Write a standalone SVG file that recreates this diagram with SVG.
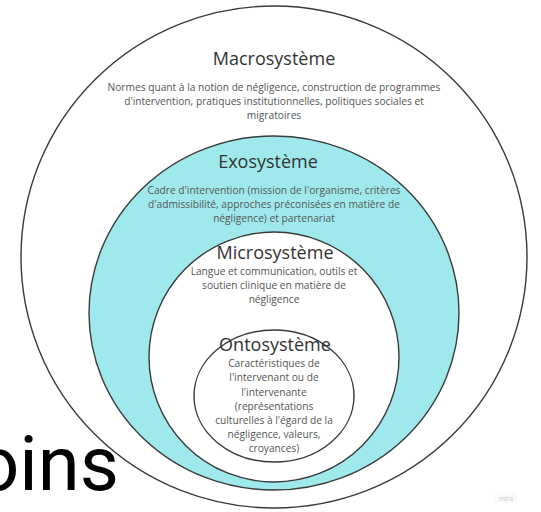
<svg xmlns="http://www.w3.org/2000/svg" width="541" height="512" viewBox="0 0 541 512">
<style>
.ring{stroke:#3a3a3a;stroke-width:1.4}
.t{font-family:"Open Sans","Liberation Sans",sans-serif;fill:#333;text-anchor:middle;font-size:18px}
.b{font-family:"Open Sans","Liberation Sans",sans-serif;fill:#555;text-anchor:middle;font-size:10.2px}
</style>
<rect width="541" height="512" fill="#ffffff"/>
<g id="macro">
<ellipse class="ring" cx="274" cy="257" rx="253" ry="251" fill="#ffffff"/>
<text class="t" x="274" y="65">Macrosystème</text>
<text class="b" x="274" y="91">Normes quant à la notion de négligence, construction de programmes</text>
<text class="b" x="274" y="105">d'intervention, pratiques institutionnelles, politiques sociales et</text>
<text class="b" x="274" y="119">migratoires</text>
</g>
<g id="exo">
<ellipse class="ring" cx="274" cy="313" rx="185" ry="177" fill="#9fe9ec"/>
<text class="t" x="268" y="168">Exosystème</text>
<text class="b" x="274" y="194">Cadre d'intervention (mission de l'organisme, critères</text>
<text class="b" x="274" y="208">d'admissibilité, approches préconisées en matière de</text>
<text class="b" x="274" y="222">négligence) et partenariat</text>
</g>
<g id="micro">
<ellipse class="ring" cx="274" cy="357" rx="125" ry="125" fill="#ffffff"/>
<text class="t" x="275" y="259" font-size="17.5">Microsystème</text>
<text class="b" x="274" y="275">Langue et communication, outils et</text>
<text class="b" x="274" y="289">soutien clinique en matière de</text>
<text class="b" x="274" y="303">négligence</text>
</g>
<g id="onto">
<ellipse class="ring" cx="274" cy="396" rx="80" ry="66" fill="#ffffff"/>
<text class="t" x="275" y="351">Ontosystème</text>
<text class="b" x="274" y="367" font-size="10.5">Caractéristiques de</text>
<text class="b" x="274" y="381" font-size="10.5">l'intervenant ou de</text>
<text class="b" x="274" y="396" font-size="10.5">l'intervenante</text>
<text class="b" x="274" y="410" font-size="10.5">(représentations</text>
<text class="b" x="274" y="424" font-size="10.5">culturelles à l'égard de la</text>
<text class="b" x="274" y="438" font-size="10.5">négligence, valeurs,</text>
<text class="b" x="274" y="452" font-size="10.5">croyances)</text>
</g>
<g id="connectors"></g>
<text x="-24" y="490" font-family="Roboto,'Liberation Sans',sans-serif" font-size="76" fill="#000">oins</text>
<rect x="495" y="493" width="22" height="10" fill="#fafafa"/>
<text x="506" y="500.5" font-family="'Open Sans',sans-serif" font-size="6.5" fill="#c8c8c8" text-anchor="middle">miro</text>
</svg>
